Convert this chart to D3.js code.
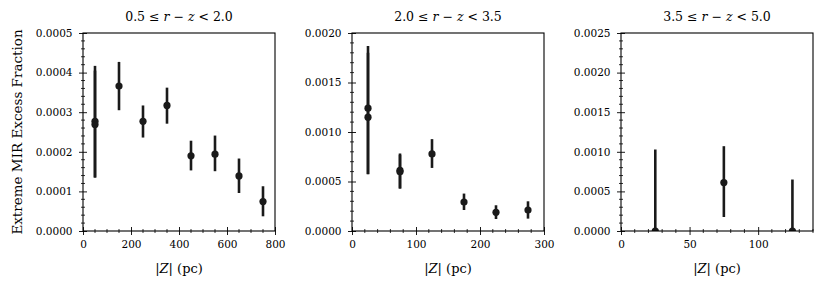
<!DOCTYPE html>
<html>
<head>
<meta charset="utf-8">
<script src="https://cdn.jsdelivr.net/npm/d3@7"></script>
<style>
  html, body { margin: 0; padding: 0; background: #fff; }
  svg { display: block; }
  text { font-family: "DejaVu Serif", "Liberation Serif", serif; fill: #000; }
</style>
</head>
<body>
<svg id="chart" width="830" height="289"></svg>
<script>
// ---------------- DATA ----------------
// Panel 1: 0.5 <= r - z < 2.0
const p1Z    = [50, 50, 150, 250, 350, 450, 550, 650, 750];
const p1Frac = [0.000277, 0.000269, 0.000366, 0.000277, 0.000317, 0.000190, 0.000194, 0.000139, 0.0000742];
const p1Lo   = [0.000135, 0.000135, 0.000305, 0.000236, 0.000271, 0.000153, 0.000151, 0.000096, 0.0000371];
const p1Hi   = [0.000417, 0.000405, 0.000427, 0.000317, 0.000362, 0.000228, 0.000241, 0.000183, 0.000113];

// Panel 2: 2.0 <= r - z < 3.5
const p2Z    = [25, 25, 75, 75, 125, 175, 225, 275];
const p2Frac = [0.001241, 0.00115, 0.000612, 0.000598, 0.000779, 0.000293, 0.000189, 0.000212];
const p2Lo   = [0.000574, 0.000574, 0.000429, 0.000429, 0.000637, 0.000212, 0.000121, 0.000125];
const p2Hi   = [0.001869, 0.001800, 0.000783, 0.000770, 0.000928, 0.000378, 0.000260, 0.000300];

// Panel 3: 3.5 <= r - z < 5.0
const p3Z    = [25, 75, 125];
const p3Frac = [0.0, 0.000612, 0.0];
const p3Lo   = [0.0, 0.000177, 0.0];
const p3Hi   = [0.001029, 0.001071, 0.000650];

// Axis limits & ticks
const p1XTicks = [0, 200, 400, 600, 800];
const p1YTicks = [0.0000, 0.0001, 0.0002, 0.0003, 0.0004, 0.0005];
const p2XTicks = [0, 100, 200, 300];
const p2YTicks = [0.0000, 0.0005, 0.0010, 0.0015, 0.0020];
const p3XTicks = [0, 50, 100];
const p3YTicks = [0.0000, 0.0005, 0.0010, 0.0015, 0.0020, 0.0025];

const titles = [["0.5 ≤ ", "r", " − ", "z", " < 2.0"],
                ["2.0 ≤ ", "r", " − ", "z", " < 3.5"],
                ["3.5 ≤ ", "r", " − ", "z", " < 5.0"]];
const yLabel = "Extreme MIR Excess Fraction";

// ---------------- LAYOUT ----------------
const panels = [
  { z: p1Z, f: p1Frac, lo: p1Lo, hi: p1Hi, xd: [0, 800], yd: [0, 0.0005], xt: p1XTicks, yt: p1YTicks, xMinor: 50, yMinor: 0.00002, left: 83 },
  { z: p2Z, f: p2Frac, lo: p2Lo, hi: p2Hi, xd: [0, 300], yd: [0, 0.002], xt: p2XTicks, yt: p2YTicks, xMinor: 20, yMinor: 0.0001, left: 352 },
  { z: p3Z, f: p3Frac, lo: p3Lo, hi: p3Hi, xd: [0, 140], yd: [0, 0.0025], xt: p3XTicks, yt: p3YTicks, xMinor: 10, yMinor: 0.0001, left: 621 }
];
const W = 192, H = 198, TOP = 33;
const col = "#1a1a1a";

const svg = d3.select("#chart");

function range(a, b, step) {
  const out = [];
  const n = Math.round((b - a) / step);
  for (let i = 0; i <= n; i++) out.push(a + i * step);
  return out;
}

panels.forEach((p, i) => {
  const g = svg.append("g").attr("transform", `translate(${p.left},${TOP})`);
  const x = d3.scaleLinear().domain(p.xd).range([0, W]);
  const y = d3.scaleLinear().domain(p.yd).range([H, 0]);

  const clipId = "clip" + i;
  g.append("clipPath").attr("id", clipId)
    .append("rect").attr("x", 0).attr("y", 0).attr("width", W).attr("height", H);

  const plot = g.append("g").attr("clip-path", `url(#${clipId})`);
  const idx = d3.range(p.z.length);
  plot.selectAll("line.err").data(idx).enter().append("line")
    .attr("x1", d => x(p.z[d])).attr("x2", d => x(p.z[d]))
    .attr("y1", d => y(p.lo[d])).attr("y2", d => y(p.hi[d]))
    .attr("stroke", col).attr("stroke-width", 2.6);
  plot.selectAll("circle").data(idx).enter().append("circle")
    .attr("cx", d => x(p.z[d])).attr("cy", d => y(p.f[d]))
    .attr("r", 3.6).attr("fill", col);

  // minor ticks
  const xMin = range(p.xd[0], p.xd[1], p.xMinor).filter(v => !p.xt.some(t => Math.abs(t - v) < 1e-9));
  const yMin = range(p.yd[0], p.yd[1], p.yMinor).filter(v => !p.yt.some(t => Math.abs(t - v) < 1e-12));
  g.selectAll("line.xminor").data(xMin).enter().append("line")
    .attr("x1", d => x(d)).attr("x2", d => x(d)).attr("y1", H - 2).attr("y2", H + 2)
    .attr("stroke", "#000").attr("stroke-width", 0.8);
  g.selectAll("line.yminor").data(yMin).enter().append("line")
    .attr("y1", d => y(d)).attr("y2", d => y(d)).attr("x1", -2).attr("x2", 2)
    .attr("stroke", "#000").attr("stroke-width", 0.8);

  // major axes
  const xAxis = d3.axisBottom(x).tickValues(p.xt).tickFormat(d3.format("d")).tickSizeInner(4).tickSizeOuter(0).tickPadding(4);
  const yAxis = d3.axisLeft(y).tickValues(p.yt).tickFormat(d3.format(".4f")).tickSizeInner(4).tickSizeOuter(0).tickPadding(4);
  const gx = g.append("g").attr("transform", `translate(0,${H})`).call(xAxis);
  const gy = g.append("g").call(yAxis);
  [gx, gy].forEach(ax => {
    ax.select(".domain").remove();
    ax.selectAll(".tick line").attr("stroke", "#000").attr("stroke-width", 0.9);
    ax.selectAll(".tick text").style("font-family", "DejaVu Serif").style("font-size", "10.5px").attr("fill", "#000");
  });
  gx.selectAll(".tick line").attr("y1", -4).attr("y2", 4);
  gx.selectAll(".tick text").attr("y", 10);
  gy.selectAll(".tick line").attr("x1", -4).attr("x2", 4);
  gy.selectAll(".tick text").attr("x", -10.5);

  // frame
  g.append("rect").attr("x", 0).attr("y", 0).attr("width", W).attr("height", H)
    .attr("fill", "none").attr("stroke", "#000").attr("stroke-width", 1.1);

  // title
  const t = g.append("text").attr("x", W / 2).attr("y", -12).attr("text-anchor", "middle")
    .style("font-size", "12.5px");
  titles[i].forEach((s, k) => {
    t.append("tspan").text(s).style("font-style", (k === 1 || k === 3) ? "italic" : "normal");
  });

  // x label
  const xl = g.append("text").attr("x", W / 2).attr("y", H + 42).attr("text-anchor", "middle")
    .style("font-size", "13px");
  xl.append("tspan").text("|");
  xl.append("tspan").text("Z").style("font-style", "italic");
  xl.append("tspan").text("| (pc)");
});

// y label
svg.append("text")
  .attr("transform", `translate(22,${TOP + H / 2}) rotate(-90)`)
  .attr("text-anchor", "middle")
  .style("font-size", "13.5px")
  .text(yLabel);
</script>
</body>
</html>
